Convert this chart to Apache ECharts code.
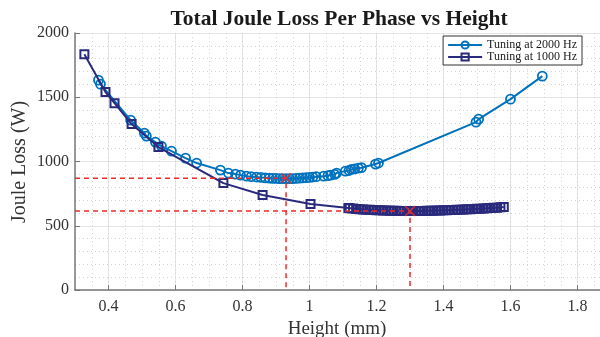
<!DOCTYPE html>
<html>
<head>
<meta charset="utf-8">
<script src="https://cdn.jsdelivr.net/npm/echarts@6/dist/echarts.min.js"></script>
<style>
  html, body { margin: 0; padding: 0; background: #fff; }
  #chart { width: 600px; height: 337px; }
</style>
</head>
<body>
<div id="chart"></div>
<script>
// Tuning at 2000 Hz (height in mm, loss in W)
const height2000 = [0.37, 0.376, 0.466, 0.507, 0.513, 0.54, 0.558, 0.588, 0.63, 0.663, 0.734, 0.758,
  0.779, 0.794, 0.812, 0.826, 0.842, 0.855, 0.868, 0.88, 0.89, 0.9, 0.91, 0.92, 0.93, 0.94, 0.95,
  0.96, 0.97, 0.98, 0.99, 1.0, 1.01, 1.02, 1.042, 1.055, 1.063, 1.075, 1.081, 1.107, 1.118, 1.125,
  1.135, 1.146, 1.155, 1.197, 1.206, 1.497, 1.505, 1.6, 1.695];
const loss2000 = [1633, 1602, 1322, 1221, 1198, 1151, 1120, 1081, 1026, 988, 933, 910,
  902, 894, 886, 882, 879, 876, 873, 871, 869, 868, 867, 866, 866, 866, 867,
  868, 870, 872, 874, 876, 879, 882, 886, 890, 894, 900, 910, 925, 930, 938,
  943, 949, 952, 980, 988, 1306, 1330, 1485, 1664];

// Tuning at 1000 Hz
const height1000 = [0.328, 0.391, 0.418, 0.469, 0.549, 0.743, 0.86, 1.003, 1.116,
  1.12, 1.13, 1.14, 1.15, 1.16, 1.17, 1.18, 1.19, 1.2, 1.21, 1.22, 1.23, 1.24, 1.25, 1.26, 1.27,
  1.28, 1.29, 1.3, 1.31, 1.32, 1.33, 1.34, 1.35, 1.36, 1.37, 1.38, 1.39, 1.4, 1.41, 1.42, 1.43,
  1.44, 1.45, 1.46, 1.47, 1.48, 1.49, 1.5, 1.51, 1.52, 1.53, 1.54, 1.55, 1.56, 1.57, 1.58];
const loss1000 = [1835, 1540, 1454, 1291, 1112, 832, 739, 669, 638,
  637, 634, 631, 629, 627, 625, 624, 622, 621, 620, 619, 618, 617, 616, 616, 615,
  615, 614, 614, 614, 614, 615, 615, 616, 616, 617, 618, 619, 620, 621, 622, 623,
  624, 625, 626, 628, 629, 630, 632, 633, 635, 636, 638, 640, 641, 643, 645];

// minimum-loss points
const minHeights = [0.93, 1.30];
const minLosses = [870, 614];

const xTickLabels = [0.4, 0.6, 0.8, 1.0, 1.2, 1.4, 1.6, 1.8];
const xMin = 0.3, xMax = 1.9;

const blue = '#0072bd';
const navy = '#2a2a7c';
const red = '#ee2a2a';
const serif = '"Liberation Serif", "DejaVu Serif", serif';

const zip = (xs, ys) => xs.map((x, i) => [x, ys[i]]);

const guideLines = minHeights.map((h, i) => ({
  type: 'line',
  silent: true,
  symbol: 'none',
  z: 5,
  lineStyle: { color: red, width: 1.5, type: [5, 4] },
  data: [[xMin, minLosses[i]], [h, minLosses[i]], [h, 0]]
}));

const chart = echarts.init(document.getElementById('chart'), null, { renderer: 'canvas' });

chart.setOption({
  backgroundColor: '#fff',
  animation: false,
  title: {
    text: 'Total Joule Loss Per Phase vs Height',
    left: 334,
    top: 3,
    textAlign: 'center',
    textStyle: { fontFamily: serif, fontWeight: 'bold', fontSize: 21.5, color: '#1a1a1a' }
  },
  // y axis title placed by hand, the axis name would not move closer
  graphic: [{
    type: 'text',
    x: 20,
    y: 162,
    rotation: Math.PI / 2,
    style: {
      text: 'Joule Loss (W)',
      fontFamily: serif,
      fontSize: 20,
      fill: '#333',
      align: 'center',
      verticalAlign: 'middle'
    }
  }],
  legend: {
    right: 18,
    top: 36,
    orient: 'vertical',
    itemGap: 0,
    itemWidth: 34,
    itemHeight: 9,
    padding: [3, 5, 2, 4],
    borderColor: '#333',
    borderWidth: 1,
    borderRadius: 0,
    backgroundColor: '#fff',
    textStyle: { fontFamily: serif, fontSize: 12, color: '#1a1a1a' },
    data: ['Tuning at 2000 Hz', 'Tuning at 1000 Hz']
  },
  grid: { left: 75, top: 33, width: 536, height: 257, containLabel: false, outerBoundsMode: 'none' },
  xAxis: [{
    type: 'value',
    min: xMin,
    max: xMax,
    interval: 0.05,
    name: 'Height (mm)',
    nameLocation: 'middle',
    nameGap: 26,
    nameTextStyle: { fontFamily: serif, fontSize: 19, color: '#333', padding: [0, 12, 0, 0] },
    axisLine: { show: true, onZero: false, lineStyle: { color: '#777', width: 1.5 } },
    axisTick: { show: true, inside: true, length: 5, customValues: xTickLabels, lineStyle: { color: '#777' } },
    axisLabel: {
      customValues: xTickLabels,
      fontFamily: serif, fontSize: 16, color: '#333', margin: 9,
      formatter: v => String(Math.round(v * 10) / 10)
    },
    splitLine: { show: true, lineStyle: { color: '#e6e6e6', width: 1 } }
  }, {
    type: 'value',
    min: xMin,
    max: xMax,
    interval: 0.05,
    position: 'bottom',
    axisLine: { show: false },
    axisTick: { show: false },
    axisLabel: { show: false },
    splitLine: { show: true, lineStyle: { color: '#d4d4d4', width: 1, type: [1, 3] } }
  }],
  yAxis: {
    type: 'value',
    min: 0,
    max: 2000,
    interval: 500,
    axisLine: { show: true, lineStyle: { color: '#777', width: 1.5 } },
    axisTick: { show: true, inside: true, length: 5, lineStyle: { color: '#777' } },
    axisLabel: { fontFamily: serif, fontSize: 16, color: '#333', margin: 6, formatter: v => String(v) },
    splitLine: { show: true, lineStyle: { color: '#e6e6e6', width: 1 } },
    minorTick: { show: false, splitNumber: 5 },
    minorSplitLine: { show: true, lineStyle: { color: '#d4d4d4', width: 1, type: [1, 3] } }
  },
  series: [{
    name: 'Tuning at 2000 Hz',
    type: 'line',
    data: zip(height2000, loss2000),
    symbol: 'circle',
    symbolSize: 9,
    z: 2,
    lineStyle: { color: blue, width: 2 },
    itemStyle: { color: 'rgba(255,255,255,0)', borderColor: blue, borderWidth: 1.8 }
  }, {
    name: 'Tuning at 1000 Hz',
    type: 'line',
    data: zip(height1000, loss1000),
    symbol: 'rect',
    symbolSize: 8,
    z: 3,
    lineStyle: { color: navy, width: 2 },
    itemStyle: { color: 'rgba(255,255,255,0)', borderColor: navy, borderWidth: 2 }
  }].concat(guideLines, [{
    type: 'scatter',
    silent: true,
    z: 6,
    symbol: 'path://M1,0L5,4L9,0L10,1L6,5L10,9L9,10L5,6L1,10L0,9L4,5L0,1Z',
    symbolSize: 11,
    itemStyle: { color: red },
    data: zip(minHeights, minLosses)
  }])
});
</script>
</body>
</html>
